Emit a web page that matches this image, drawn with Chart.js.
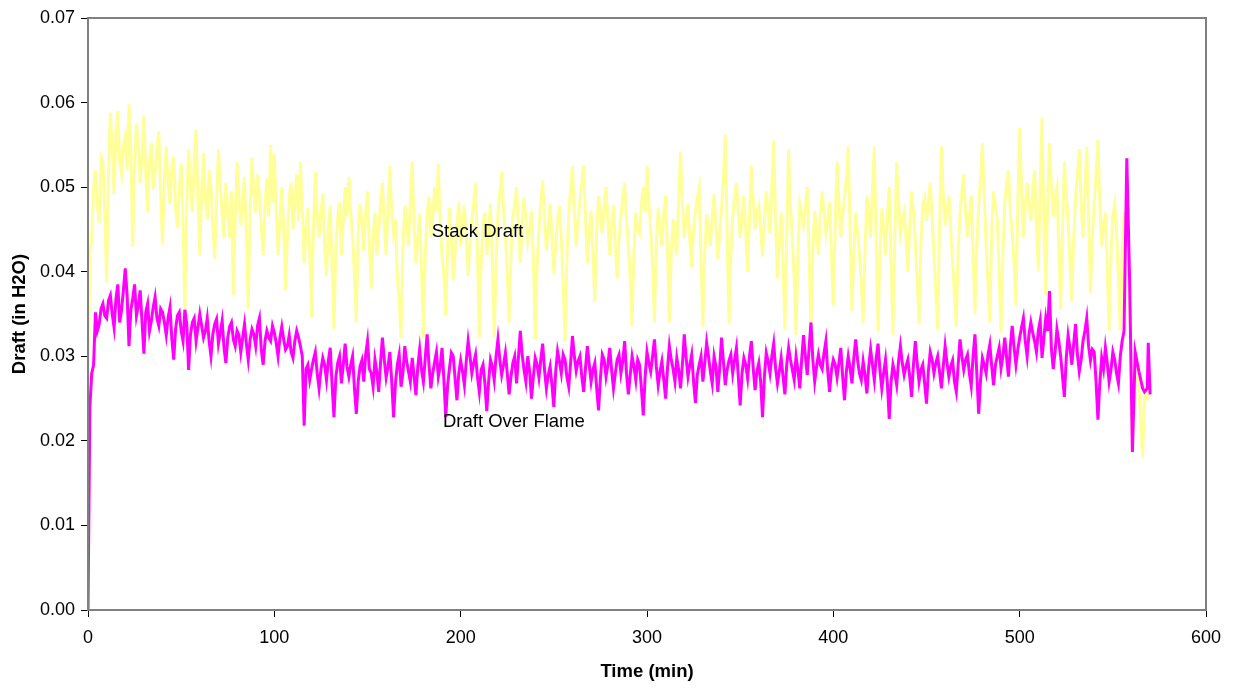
<!DOCTYPE html>
<html>
<head>
<meta charset="utf-8">
<title>Draft</title>
<script src="https://cdn.jsdelivr.net/npm/chart.js"></script>
<style>
  html, body { margin: 0; padding: 0; background: #fff; }
  #wrap { width: 1234px; height: 688px; }
</style>
</head>
<body>
<div id="wrap"><canvas id="chart" width="1234" height="688"></canvas></div>
<script>
// logged every minute from t = 0
const sampleStepMin = 1;

const flameDraft = [
  0.0000, 0.0240, 0.0280, 0.0290, 0.0352, 0.0330, 0.0338, 0.0356, 0.0362, 0.0348, 0.0345, 0.0366, 0.0372, 0.0350, 0.0334, 0.0368, 0.0385, 0.0340, 0.0355, 0.0378,
  0.0404, 0.0372, 0.0312, 0.0355, 0.0368, 0.0385, 0.0348, 0.0360, 0.0378, 0.0340, 0.0303, 0.0352, 0.0362, 0.0330, 0.0342, 0.0358, 0.0370, 0.0345, 0.0336, 0.0356,
  0.0352, 0.0340, 0.0325, 0.0346, 0.0358, 0.0320, 0.0296, 0.0332, 0.0348, 0.0352, 0.0330, 0.0318, 0.0355, 0.0338, 0.0284, 0.0326, 0.0340, 0.0345, 0.0318, 0.0334,
  0.0350, 0.0336, 0.0322, 0.0330, 0.0345, 0.0318, 0.0300, 0.0326, 0.0338, 0.0344, 0.0315, 0.0328, 0.0342, 0.0310, 0.0292, 0.0322, 0.0335, 0.0340, 0.0320, 0.0312,
  0.0330, 0.0325, 0.0305, 0.0322, 0.0338, 0.0315, 0.0296, 0.0320, 0.0332, 0.0326, 0.0312, 0.0336, 0.0345, 0.0308, 0.0290, 0.0318, 0.0330, 0.0322, 0.0318, 0.0336,
  0.0328, 0.0316, 0.0300, 0.0322, 0.0335, 0.0320, 0.0308, 0.0312, 0.0325, 0.0305, 0.0298, 0.0318, 0.0330, 0.0322, 0.0312, 0.0300, 0.0218, 0.0285, 0.0290, 0.0272,
  0.0285, 0.0296, 0.0305, 0.0280, 0.0262, 0.0284, 0.0298, 0.0290, 0.0272, 0.0295, 0.0310, 0.0266, 0.0228, 0.0275, 0.0292, 0.0300, 0.0268, 0.0290, 0.0315, 0.0288,
  0.0276, 0.0290, 0.0300, 0.0262, 0.0232, 0.0270, 0.0288, 0.0295, 0.0270, 0.0302, 0.0318, 0.0285, 0.0280, 0.0264, 0.0296, 0.0282, 0.0258, 0.0292, 0.0322, 0.0296,
  0.0275, 0.0288, 0.0305, 0.0270, 0.0228, 0.0268, 0.0290, 0.0302, 0.0264, 0.0280, 0.0312, 0.0294, 0.0282, 0.0270, 0.0298, 0.0276, 0.0254, 0.0288, 0.0308, 0.0284,
  0.0270, 0.0298, 0.0326, 0.0290, 0.0262, 0.0280, 0.0293, 0.0305, 0.0276, 0.0288, 0.0310, 0.0272, 0.0228, 0.0266, 0.0286, 0.0304, 0.0300, 0.0274, 0.0248, 0.0280,
  0.0295, 0.0282, 0.0266, 0.0294, 0.0318, 0.0300, 0.0280, 0.0292, 0.0302, 0.0276, 0.0258, 0.0284, 0.0290, 0.0268, 0.0235, 0.0270, 0.0296, 0.0288, 0.0272, 0.0300,
  0.0320, 0.0296, 0.0278, 0.0290, 0.0304, 0.0280, 0.0255, 0.0276, 0.0292, 0.0300, 0.0268, 0.0298, 0.0330, 0.0302, 0.0284, 0.0270, 0.0300, 0.0282, 0.0250, 0.0276,
  0.0298, 0.0290, 0.0275, 0.0296, 0.0315, 0.0284, 0.0262, 0.0278, 0.0288, 0.0266, 0.0240, 0.0282, 0.0306, 0.0294, 0.0280, 0.0302, 0.0296, 0.0276, 0.0264, 0.0292,
  0.0324, 0.0300, 0.0283, 0.0294, 0.0300, 0.0276, 0.0258, 0.0286, 0.0312, 0.0290, 0.0270, 0.0284, 0.0292, 0.0262, 0.0236, 0.0274, 0.0302, 0.0296, 0.0276, 0.0290,
  0.0310, 0.0284, 0.0262, 0.0280, 0.0296, 0.0302, 0.0280, 0.0294, 0.0318, 0.0280, 0.0255, 0.0278, 0.0300, 0.0288, 0.0272, 0.0296, 0.0290, 0.0262, 0.0230, 0.0276,
  0.0305, 0.0292, 0.0282, 0.0300, 0.0320, 0.0288, 0.0266, 0.0282, 0.0294, 0.0272, 0.0250, 0.0286, 0.0312, 0.0296, 0.0285, 0.0270, 0.0298, 0.0284, 0.0262, 0.0290,
  0.0326, 0.0298, 0.0276, 0.0290, 0.0302, 0.0270, 0.0245, 0.0278, 0.0290, 0.0300, 0.0270, 0.0292, 0.0316, 0.0300, 0.0282, 0.0268, 0.0300, 0.0288, 0.0258, 0.0286,
  0.0322, 0.0294, 0.0266, 0.0284, 0.0295, 0.0302, 0.0280, 0.0296, 0.0310, 0.0276, 0.0242, 0.0280, 0.0298, 0.0290, 0.0274, 0.0300, 0.0318, 0.0286, 0.0260, 0.0282,
  0.0292, 0.0270, 0.0228, 0.0276, 0.0304, 0.0294, 0.0280, 0.0300, 0.0315, 0.0286, 0.0268, 0.0282, 0.0298, 0.0276, 0.0255, 0.0290, 0.0310, 0.0296, 0.0284, 0.0272,
  0.0300, 0.0284, 0.0262, 0.0296, 0.0325, 0.0300, 0.0278, 0.0310, 0.0340, 0.0296, 0.0270, 0.0288, 0.0302, 0.0290, 0.0285, 0.0304, 0.0318, 0.0282, 0.0258, 0.0284,
  0.0296, 0.0290, 0.0275, 0.0292, 0.0310, 0.0276, 0.0248, 0.0282, 0.0300, 0.0286, 0.0268, 0.0298, 0.0320, 0.0296, 0.0280, 0.0272, 0.0294, 0.0278, 0.0256, 0.0288,
  0.0308, 0.0290, 0.0272, 0.0298, 0.0315, 0.0284, 0.0262, 0.0280, 0.0296, 0.0268, 0.0226, 0.0270, 0.0290, 0.0280, 0.0266, 0.0294, 0.0312, 0.0292, 0.0278, 0.0288,
  0.0296, 0.0276, 0.0252, 0.0290, 0.0318, 0.0292, 0.0270, 0.0284, 0.0290, 0.0268, 0.0244, 0.0282, 0.0305, 0.0296, 0.0280, 0.0292, 0.0300, 0.0282, 0.0262, 0.0288,
  0.0312, 0.0292, 0.0276, 0.0288, 0.0295, 0.0270, 0.0258, 0.0290, 0.0320, 0.0300, 0.0284, 0.0296, 0.0302, 0.0280, 0.0265, 0.0300, 0.0326, 0.0280, 0.0232, 0.0272,
  0.0298, 0.0290, 0.0280, 0.0302, 0.0314, 0.0288, 0.0266, 0.0290, 0.0300, 0.0310, 0.0286, 0.0300, 0.0322, 0.0298, 0.0276, 0.0312, 0.0336, 0.0310, 0.0290, 0.0308,
  0.0322, 0.0334, 0.0345, 0.0318, 0.0300, 0.0326, 0.0340, 0.0328, 0.0318, 0.0305, 0.0330, 0.0342, 0.0298, 0.0322, 0.0345, 0.0330, 0.0377, 0.0310, 0.0285, 0.0305,
  0.0332, 0.0318, 0.0300, 0.0276, 0.0252, 0.0298, 0.0325, 0.0310, 0.0290, 0.0315, 0.0338, 0.0302, 0.0282, 0.0296, 0.0318, 0.0330, 0.0345, 0.0312, 0.0295, 0.0308,
  0.0305, 0.0270, 0.0225, 0.0268, 0.0298, 0.0285, 0.0310, 0.0292, 0.0270, 0.0284, 0.0305, 0.0296, 0.0280, 0.0268, 0.0300, 0.0318, 0.0330
];

const stackDraft = [
  0.0240, 0.0420, 0.0440, 0.0500, 0.0520, 0.0480, 0.0458, 0.0536, 0.0532, 0.0470, 0.0386, 0.0520, 0.0588, 0.0545, 0.0492, 0.0565, 0.0590, 0.0530, 0.0515, 0.0548,
  0.0560, 0.0520, 0.0598, 0.0540, 0.0430, 0.0522, 0.0575, 0.0548, 0.0505, 0.0540, 0.0585, 0.0515, 0.0470, 0.0530, 0.0552, 0.0498, 0.0518, 0.0545, 0.0566, 0.0490,
  0.0432, 0.0510, 0.0548, 0.0505, 0.0480, 0.0522, 0.0536, 0.0475, 0.0452, 0.0498, 0.0528, 0.0460, 0.0348, 0.0480, 0.0545, 0.0500, 0.0470, 0.0530, 0.0568, 0.0485,
  0.0420, 0.0495, 0.0540, 0.0488, 0.0462, 0.0520, 0.0500, 0.0452, 0.0415, 0.0485, 0.0545, 0.0500, 0.0468, 0.0440, 0.0505, 0.0470, 0.0440, 0.0495, 0.0372, 0.0460,
  0.0530, 0.0490, 0.0455, 0.0488, 0.0512, 0.0440, 0.0356, 0.0470, 0.0535, 0.0492, 0.0470, 0.0515, 0.0490, 0.0452, 0.0420, 0.0478, 0.0510, 0.0465, 0.0550, 0.0482,
  0.0540, 0.0470, 0.0420, 0.0462, 0.0500, 0.0455, 0.0378, 0.0440, 0.0488, 0.0505, 0.0450, 0.0478, 0.0515, 0.0460, 0.0530, 0.0472, 0.0410, 0.0452, 0.0475, 0.0420,
  0.0346, 0.0450, 0.0518, 0.0470, 0.0440, 0.0468, 0.0492, 0.0430, 0.0395, 0.0450, 0.0478, 0.0410, 0.0332, 0.0425, 0.0465, 0.0482, 0.0420, 0.0458, 0.0500, 0.0465,
  0.0512, 0.0470, 0.0440, 0.0395, 0.0340, 0.0445, 0.0480, 0.0458, 0.0425, 0.0470, 0.0495, 0.0430, 0.0380, 0.0440, 0.0470, 0.0420, 0.0448, 0.0482, 0.0505, 0.0455,
  0.0420, 0.0478, 0.0525, 0.0470, 0.0445, 0.0462, 0.0395, 0.0365, 0.0322, 0.0430, 0.0478, 0.0460, 0.0430, 0.0485, 0.0530, 0.0455, 0.0410, 0.0440, 0.0468, 0.0400,
  0.0322, 0.0420, 0.0470, 0.0488, 0.0440, 0.0462, 0.0500, 0.0472, 0.0528, 0.0460, 0.0420, 0.0395, 0.0348, 0.0430, 0.0475, 0.0440, 0.0390, 0.0420, 0.0455, 0.0482,
  0.0430, 0.0452, 0.0478, 0.0440, 0.0395, 0.0435, 0.0460, 0.0482, 0.0505, 0.0420, 0.0322, 0.0410, 0.0455, 0.0470, 0.0420, 0.0448, 0.0480, 0.0415, 0.0322, 0.0405,
  0.0470, 0.0492, 0.0518, 0.0475, 0.0440, 0.0400, 0.0340, 0.0420, 0.0465, 0.0478, 0.0500, 0.0452, 0.0410, 0.0455, 0.0488, 0.0462, 0.0435, 0.0450, 0.0472, 0.0415,
  0.0320, 0.0405, 0.0450, 0.0482, 0.0508, 0.0460, 0.0425, 0.0452, 0.0480, 0.0440, 0.0398, 0.0430, 0.0462, 0.0478, 0.0440, 0.0385, 0.0318, 0.0412, 0.0470, 0.0498,
  0.0525, 0.0472, 0.0430, 0.0460, 0.0485, 0.0505, 0.0525, 0.0462, 0.0410, 0.0445, 0.0472, 0.0420, 0.0365, 0.0448, 0.0490, 0.0465, 0.0445, 0.0478, 0.0500, 0.0460,
  0.0420, 0.0455, 0.0478, 0.0430, 0.0392, 0.0440, 0.0465, 0.0488, 0.0505, 0.0462, 0.0430, 0.0390, 0.0335, 0.0425, 0.0470, 0.0450, 0.0445, 0.0480, 0.0500, 0.0470,
  0.0525, 0.0482, 0.0450, 0.0405, 0.0340, 0.0432, 0.0475, 0.0450, 0.0430, 0.0468, 0.0490, 0.0425, 0.0340, 0.0420, 0.0462, 0.0440, 0.0420, 0.0488, 0.0542, 0.0480,
  0.0440, 0.0462, 0.0480, 0.0435, 0.0405, 0.0450, 0.0472, 0.0488, 0.0500, 0.0415, 0.0335, 0.0422, 0.0468, 0.0448, 0.0430, 0.0465, 0.0492, 0.0455, 0.0415, 0.0445,
  0.0475, 0.0510, 0.0562, 0.0445, 0.0338, 0.0418, 0.0465, 0.0488, 0.0505, 0.0470, 0.0440, 0.0468, 0.0490, 0.0445, 0.0400, 0.0462, 0.0525, 0.0485, 0.0450, 0.0470,
  0.0478, 0.0450, 0.0418, 0.0462, 0.0495, 0.0470, 0.0445, 0.0500, 0.0555, 0.0460, 0.0392, 0.0435, 0.0470, 0.0410, 0.0332, 0.0440, 0.0545, 0.0478, 0.0440, 0.0392,
  0.0325, 0.0420, 0.0480, 0.0468, 0.0455, 0.0478, 0.0500, 0.0420, 0.0330, 0.0425, 0.0472, 0.0448, 0.0420, 0.0465, 0.0495, 0.0470, 0.0445, 0.0462, 0.0482, 0.0420,
  0.0360, 0.0455, 0.0530, 0.0482, 0.0440, 0.0465, 0.0488, 0.0510, 0.0548, 0.0450, 0.0354, 0.0420, 0.0470, 0.0448, 0.0420, 0.0385, 0.0340, 0.0425, 0.0490, 0.0468,
  0.0440, 0.0498, 0.0548, 0.0435, 0.0330, 0.0420, 0.0475, 0.0452, 0.0420, 0.0468, 0.0500, 0.0410, 0.0325, 0.0438, 0.0530, 0.0482, 0.0445, 0.0460, 0.0470, 0.0440,
  0.0400, 0.0452, 0.0495, 0.0470, 0.0435, 0.0390, 0.0338, 0.0430, 0.0480, 0.0488, 0.0460, 0.0482, 0.0505, 0.0465, 0.0420, 0.0375, 0.0332, 0.0455, 0.0548, 0.0490,
  0.0455, 0.0472, 0.0490, 0.0450, 0.0410, 0.0370, 0.0335, 0.0425, 0.0470, 0.0495, 0.0515, 0.0468, 0.0440, 0.0465, 0.0490, 0.0420, 0.0350, 0.0430, 0.0478, 0.0510,
  0.0552, 0.0490, 0.0430, 0.0385, 0.0340, 0.0448, 0.0495, 0.0478, 0.0460, 0.0400, 0.0328, 0.0420, 0.0480, 0.0505, 0.0520, 0.0470, 0.0445, 0.0410, 0.0360, 0.0480,
  0.0570, 0.0500, 0.0440, 0.0478, 0.0505, 0.0482, 0.0460, 0.0495, 0.0520, 0.0455, 0.0400, 0.0500, 0.0582, 0.0460, 0.0372, 0.0480, 0.0552, 0.0505, 0.0465, 0.0488,
  0.0500, 0.0430, 0.0355, 0.0450, 0.0530, 0.0490, 0.0460, 0.0410, 0.0365, 0.0440, 0.0488, 0.0515, 0.0545, 0.0480, 0.0440, 0.0495, 0.0548, 0.0462, 0.0375, 0.0440,
  0.0480, 0.0515, 0.0556, 0.0482, 0.0430, 0.0455, 0.0470, 0.0405, 0.0330, 0.0420, 0.0465, 0.0480, 0.0448, 0.0390, 0.0330, 0.0420, 0.0470
];

// burner-off transient at the end of the run (irregular times)
const tailMinutes    = [557.5, 559, 560.5, 562, 564, 566, 567, 568.5, 569, 570];
const tailFlameDraft = [0.0534, 0.0390, 0.0187, 0.0305, 0.0282, 0.0262, 0.0258, 0.0262, 0.0316, 0.0255];
const tailStackDraft = [0.0440, 0.0380, 0.0186, 0.0290, 0.0262, 0.0181, 0.0255, 0.0250, 0.0260, 0.0255];

const xTicks = [0, 100, 200, 300, 400, 500, 600];
const yTicks = [0, 0.01, 0.02, 0.03, 0.04, 0.05, 0.06, 0.07];

function toPoints(values, tailValues) {
  const pts = values.map((v, i) => ({ x: i * sampleStepMin, y: v }));
  tailValues.forEach((v, i) => pts.push({ x: tailMinutes[i], y: v }));
  return pts;
}

const FONT = '"Liberation Sans", Arial, sans-serif';

const framePlugin = {
  id: 'frame',
  afterDraw(chart) {
    const { ctx, chartArea: a } = chart;
    ctx.save();
    ctx.strokeStyle = '#808080';
    ctx.lineWidth = 2;
    ctx.strokeRect(a.left, a.top, a.right - a.left, a.bottom - a.top);
    ctx.restore();
  }
};

const seriesLabels = [
  { text: 'Stack Draft', x: 184.5, y: 0.0447 },
  { text: 'Draft Over Flame', x: 190.5, y: 0.0222 }
];

const labelPlugin = {
  id: 'seriesLabels',
  afterDatasetsDraw(chart) {
    const { ctx, scales } = chart;
    ctx.save();
    ctx.font = '18.5px ' + FONT;
    ctx.fillStyle = '#000';
    ctx.textAlign = 'left';
    ctx.textBaseline = 'middle';
    seriesLabels.forEach(l => {
      ctx.fillText(l.text, scales.x.getPixelForValue(l.x), scales.y.getPixelForValue(l.y));
    });
    ctx.restore();
  }
};

new Chart(document.getElementById('chart').getContext('2d'), {
  type: 'line',
  data: {
    datasets: [
      {
        label: 'Draft Over Flame',
        data: toPoints(flameDraft, tailFlameDraft),
        borderColor: '#FF00FF',
        borderWidth: 3,
        pointRadius: 0,
        tension: 0
      },
      {
        label: 'Stack Draft',
        data: toPoints(stackDraft, tailStackDraft),
        borderColor: '#FFFF99',
        borderWidth: 3,
        pointRadius: 0,
        tension: 0
      }
    ]
  },
  options: {
    responsive: false,
    animation: false,
    parsing: false,
    layout: { padding: { top: 18, right: 28, left: 0, bottom: 0 } },
    plugins: { legend: { display: false }, tooltip: { enabled: false } },
    scales: {
      x: {
        type: 'linear',
        min: 0,
        max: 600,
        afterBuildTicks: s => { s.ticks = xTicks.map(v => ({ value: v })); },
        afterFit: s => { s.height = 78; },
        ticks: { color: '#000', font: { family: FONT, size: 18 }, padding: 10, maxRotation: 0 },
        grid: { drawOnChartArea: false, color: '#000', tickLength: 7 },
        border: { display: false },
        title: { display: true, text: 'Time (min)', color: '#000', font: { family: FONT, size: 18.5, weight: 'bold' }, padding: { top: 0, bottom: 5 } }
      },
      y: {
        min: 0,
        max: 0.07,
        afterBuildTicks: s => { s.ticks = yTicks.map(v => ({ value: v })); },
        afterFit: s => { s.width = 88; },
        ticks: { color: '#000', font: { family: FONT, size: 18 }, padding: 6, callback: v => v.toFixed(2) },
        grid: { drawOnChartArea: false, color: '#000', tickLength: 7 },
        border: { display: false },
        title: { display: true, text: 'Draft (in H2O)', color: '#000', font: { family: FONT, size: 18.5, weight: 'bold' }, padding: { top: 9, bottom: 0 } }
      }
    }
  },
  plugins: [framePlugin, labelPlugin]
});
</script>
</body>
</html>
